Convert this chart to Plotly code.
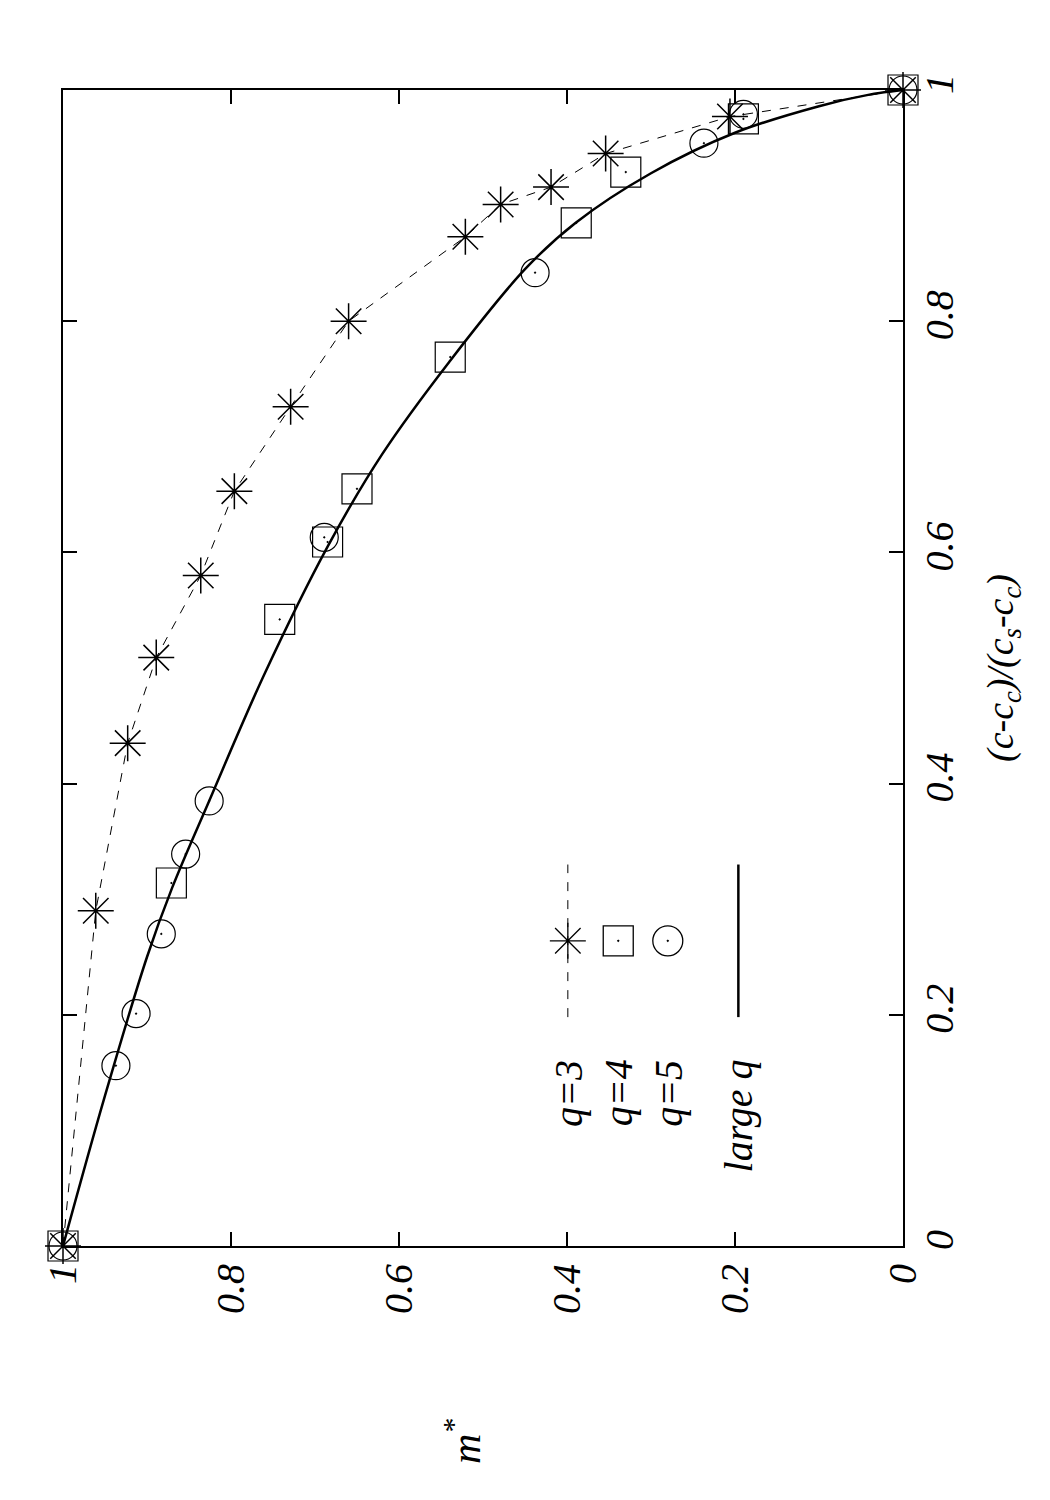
import plotly.graph_objects as go

# m* (horizontal, reversed) vs (c-c_c)/(c_s-c_c) (vertical)
q3_m = [1.0, 0.961, 0.923, 0.889, 0.836, 0.796, 0.729, 0.660, 0.521, 0.479, 0.419, 0.354, 0.206, 0.0]
q3_c = [0.0, 0.290, 0.435, 0.509, 0.580, 0.653, 0.726, 0.800, 0.873, 0.901, 0.916, 0.945, 0.977, 1.0]

q4_m = [1.0, 0.871, 0.742, 0.685, 0.650, 0.539, 0.389, 0.330, 0.190, 0.0]
q4_c = [0.0, 0.314, 0.542, 0.609, 0.655, 0.769, 0.885, 0.929, 0.975, 1.0]

q5_m = [1.0, 0.937, 0.913, 0.883, 0.854, 0.826, 0.689, 0.438, 0.237, 0.190, 0.0]
q5_c = [0.0, 0.156, 0.201, 0.270, 0.339, 0.385, 0.613, 0.842, 0.954, 0.979, 1.0]

large_m = [1.0, 0.95, 0.90, 0.87, 0.826, 0.76, 0.685, 0.62, 0.54, 0.45, 0.39, 0.30, 0.20, 0.10, 0.04, 0.0]
large_c = [0.0, 0.13, 0.25, 0.31, 0.385, 0.495, 0.605, 0.685, 0.765, 0.845, 0.885, 0.928, 0.963, 0.986, 0.996, 1.0]

tick_vals = [0, 0.2, 0.4, 0.6, 0.8, 1]
tick_text = ["0", "0.2", "0.4", "0.6", "0.8", "1"]

FONT = "Liberation Serif"

fig = go.Figure()
fig.add_trace(go.Scatter(x=q3_m, y=q3_c, mode="lines+markers", cliponaxis=False,
                         line=dict(color="black", width=1, dash="dash"),
                         marker=dict(symbol="asterisk-open", size=30, color="black",
                                     line=dict(width=1.5, color="black"))))
fig.add_trace(go.Scatter(x=q4_m, y=q4_c, mode="markers", cliponaxis=False,
                         marker=dict(symbol="square-open-dot", size=30, color="black",
                                     line=dict(width=1.2, color="black"))))
fig.add_trace(go.Scatter(x=q5_m, y=q5_c, mode="markers", cliponaxis=False,
                         marker=dict(symbol="circle-open-dot", size=28, color="black",
                                     line=dict(width=1.2, color="black"))))
fig.add_trace(go.Scatter(x=large_m, y=large_c, mode="lines", line_shape="spline",
                         line=dict(color="black", width=2.5)))

# legend keys (paper coordinates)
legend_keys = [
    ("q=3", 0.601, "asterisk-open", "dash", 1),
    ("q=4", 0.661, "square-open-dot", None, 0),
    ("q=5", 0.720, "circle-open-dot", None, 0),
    ("large q", 0.804, None, "solid", 2.5),
]
for label, px, sym, dash, lw in legend_keys:
    if dash:
        fig.add_shape(type="line", xref="paper", yref="paper", x0=px, x1=px,
                      y0=0.198, y1=0.330, line=dict(color="black", width=lw, dash=dash))
    if sym:
        fig.add_trace(go.Scatter(x=[px], y=[0.264], xaxis="x2", yaxis="y2", mode="markers",
                                 marker=dict(symbol=sym, size=30, color="black",
                                             line=dict(width=1.3, color="black"))))
    fig.add_annotation(x=px, y=0.163, xref="paper", yref="paper", text=label, textangle=-90,
                       showarrow=False, xanchor="center", yanchor="top",
                       font=dict(family=FONT, size=40, style="italic", color="black"))

fig.add_annotation(x=1.15, y=0.5, xref="paper", yref="paper",
                   text="(c-c<sub>c</sub>)/(c<sub>s</sub>-c<sub>c</sub>)", textangle=-90,
                   showarrow=False, font=dict(family=FONT, size=38, style="italic", color="black"))
fig.add_annotation(x=0.476, y=-0.19, xref="paper", yref="paper",
                   text="m<sup>*</sup>", textangle=-90,
                   showarrow=False, font=dict(family=FONT, size=42, style="italic", color="black"))

axis_common = dict(showgrid=False, zeroline=False, showline=True, linecolor="black", linewidth=2,
                   mirror="ticks", ticks="inside", ticklen=14, tickwidth=1.5, tickcolor="black",
                   tickvals=tick_vals, ticktext=tick_text, tickangle=-90,
                   tickfont=dict(family=FONT, size=40, style="italic", color="black"))

fig.update_layout(
    width=1050, height=1500, showlegend=False,
    plot_bgcolor="white", paper_bgcolor="white",
    margin=dict(l=55, r=155, t=82, b=262),
    xaxis=dict(range=[1, 0], **axis_common),
    yaxis=dict(range=[0, 1], side="right", **axis_common),
    xaxis2=dict(range=[0, 1], overlaying="x", visible=False),
    yaxis2=dict(range=[0, 1], overlaying="y", visible=False),
)

fig.write_html("out.html")
